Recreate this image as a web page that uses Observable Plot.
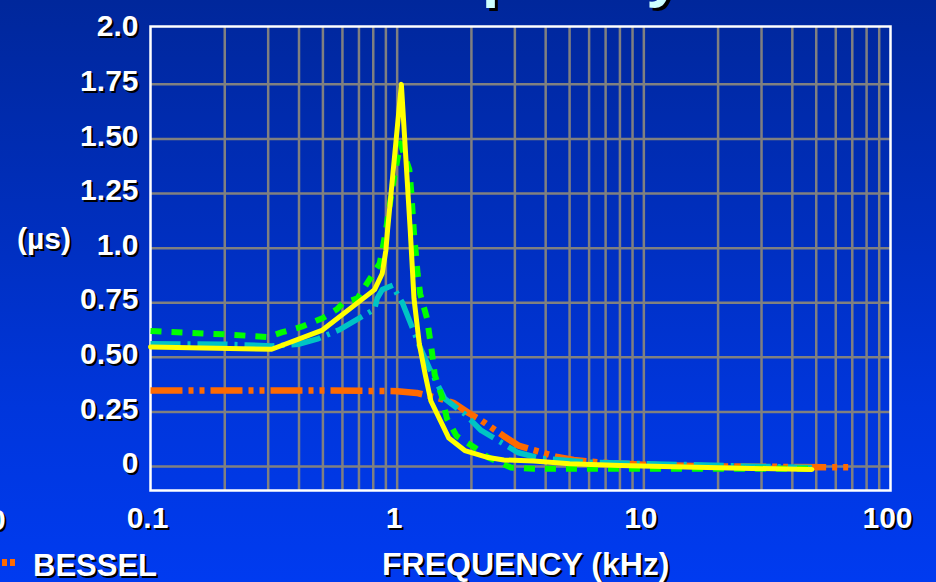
<!DOCTYPE html>
<html>
<head>
<meta charset="utf-8">
<script src="https://cdn.jsdelivr.net/npm/d3@7"></script>
<script src="https://cdn.jsdelivr.net/npm/@observablehq/plot@0.6"></script>
<style>
  html, body { margin: 0; padding: 0; }
  body { width: 936px; height: 582px; overflow: hidden; }
  #wrap {
    position: relative; width: 936px; height: 582px; overflow: hidden;
    background: linear-gradient(to bottom, #00279b 0%, #002fbf 40%, #0036dc 70%, #003bf0 100%);
    font-family: "Liberation Sans", Arial, sans-serif; font-weight: bold; color: white;
  }
  #wrap svg { position: absolute; left: 0; top: 0; }
  .lbl { position: absolute; white-space: nowrap; text-shadow: 2px 2px 0 #000; }
  #title { position: absolute; left: 0; width: 1044px; text-align: center; top: -121px;
    font-size: 63px; line-height: 63px; color: #ccffff; text-shadow: 3px 3px 0 #000; }
  .mk { position: absolute; background: #ff6a00; }
</style>
</head>
<body>
<div id="wrap">
  <div id="title">Group Delay vs.<br>Frequency</div>
</div>
<script>
// Tick values and labels
const xTicks = [0.1, 1, 10, 100];
const xTickLabels = ["0.1", "1", "10", "100"];
const xGrid = [0.2,0.3,0.4,0.5,0.6,0.7,0.8,0.9,1,2,3,4,5,6,7,8,9,10,20,30,40,50,60,70,80,90];
const yTicks = [2.0, 1.75, 1.5, 1.25, 1.0, 0.75, 0.5, 0.25, 0];
const yTickLabels = ["2.0", "1.75", "1.50", "1.25", "1.0", "0.75", "0.50", "0.25", "0"];
const yGrid = [0, 0.25, 0.5, 0.75, 1.0, 1.25, 1.5, 1.75];

// Bessel (orange, dash-dot-dot)
const besselF = [0.1, 0.5, 1.0, 1.2, 1.5, 1.7, 1.95, 2.2, 2.4, 2.7, 3.1, 3.7, 4.4, 5.2, 6.6, 10, 20, 68];
const besselV = [0.348, 0.348, 0.345, 0.337, 0.31, 0.29, 0.245, 0.21, 0.18, 0.14, 0.096, 0.07, 0.045, 0.03, 0.018, 0.008, 0, -0.004];

// Cyan (dash-dot)
const cyanF = [0.1, 0.2, 0.31, 0.4, 0.48, 0.58, 0.81, 0.83, 0.87, 0.96, 1.0, 1.05, 1.23, 1.35, 1.56, 1.88, 2.19, 2.64, 3.08, 3.81, 6, 9.3, 48];
const cyanV = [0.562, 0.56, 0.552, 0.56, 0.586, 0.625, 0.72, 0.77, 0.81, 0.83, 0.79, 0.75, 0.554, 0.45, 0.31, 0.24, 0.165, 0.11, 0.064, 0.037, 0.02, 0.014, -0.005];

// Green (dashed)
const greenF = [0.1, 0.2, 0.3, 0.34, 0.41, 0.5, 0.57, 0.6, 0.69, 0.85, 0.87, 0.9, 0.957, 1.0, 1.03, 1.12, 1.14, 1.17, 1.21, 1.24, 1.32, 1.385, 1.42, 1.52, 1.59, 1.74, 2.06, 2.34, 2.89, 3.57, 6.6, 48];
const greenV = [0.62, 0.605, 0.593, 0.614, 0.64, 0.68, 0.72, 0.746, 0.77, 0.93, 0.99, 1.08, 1.28, 1.40, 1.48, 1.36, 1.26, 1.07, 0.884, 0.79, 0.68, 0.52, 0.42, 0.32, 0.22, 0.14, 0.087, 0.041, -0.005, -0.01, -0.01, -0.01];

// Yellow (solid)
const yellowF = [0.1, 0.31, 0.495, 0.81, 0.87, 0.9, 0.914, 1.04, 1.13, 1.17, 1.23, 1.30, 1.37, 1.62, 1.88, 2.34, 2.71, 3.57, 5.0, 8, 20, 48];
const yellowV = [0.547, 0.537, 0.623, 0.81, 0.884, 0.99, 1.08, 1.75, 1.08, 0.77, 0.56, 0.42, 0.30, 0.13, 0.073, 0.041, 0.03, 0.025, 0.012, 0.005, -0.006, -0.014];

const toRows = (F, V) => F.map((f, i) => ({f, v: V[i]}));
const bessel = toRows(besselF, besselV);
const cyan = toRows(cyanF, cyanV);
const green = toRows(greenF, greenV);
const yellow = toRows(yellowF, yellowV);

const font = {fontFamily: "Liberation Sans, Arial, sans-serif", fontWeight: "bold", fontSize: 30};

const chart = Plot.plot({
  width: 936,
  height: 582,
  marginLeft: 150,
  marginRight: 46,
  marginTop: 26,
  marginBottom: 92,
  x: {type: "log", domain: [0.1, 100], axis: null},
  y: {domain: [-0.11, 2.015], axis: null},
  style: {background: "transparent", overflow: "visible"},
  marks: [
    Plot.ruleX(xGrid, {stroke: "#808080", strokeWidth: 2.5}),
    Plot.ruleY(yGrid, {stroke: "#808080", strokeWidth: 2.5}),
    Plot.frame({stroke: "white", strokeWidth: 2.5}),
    Plot.line(bessel, {x: "f", y: "v", stroke: "#ff6a00", strokeWidth: 6.5, strokeDasharray: "32,6,5,6,5,6", strokeLinecap: "butt"}),
    Plot.line(cyan, {x: "f", y: "v", stroke: "#00c4c4", strokeWidth: 5.5, strokeDasharray: "30,7,3,7", strokeLinecap: "butt"}),
    Plot.line(green, {x: "f", y: "v", stroke: "#00ff00", strokeWidth: 6, strokeDasharray: "11,10", strokeLinecap: "butt"}),
    Plot.line(yellow, {x: "f", y: "v", stroke: "#ffff00", strokeWidth: 5, strokeLinejoin: "round"}),
    // y tick labels (shadow + white)
    Plot.text(yTicks, {y: d => d, text: (d, i) => yTickLabels[i], frameAnchor: "left", textAnchor: "end", dx: -10, dy: -1, fill: "black", ...font}),
    Plot.text(yTicks, {y: d => d, text: (d, i) => yTickLabels[i], frameAnchor: "left", textAnchor: "end", dx: -12, dy: -3, fill: "white", ...font}),
    // x tick labels (shadow + white)
    Plot.text(xTicks, {x: d => d, text: (d, i) => xTickLabels[i], frameAnchor: "bottom", lineAnchor: "top", dx: -1, dy: 18, fill: "black", ...font}),
    Plot.text(xTicks, {x: d => d, text: (d, i) => xTickLabels[i], frameAnchor: "bottom", lineAnchor: "top", dx: -3, dy: 16, fill: "white", ...font})
  ]
});

const wrap = document.getElementById("wrap");
wrap.appendChild(chart);

function addLabel(text, left, top, size) {
  const d = document.createElement("div");
  d.className = "lbl";
  d.textContent = text;
  d.style.left = left + "px";
  d.style.top = top + "px";
  d.style.fontSize = size + "px";
  d.style.lineHeight = size + "px";
  wrap.appendChild(d);
}
addLabel("(\u00b5s)", 17, 224, 30);
addLabel("FREQUENCY (kHz)", 382, 548, 32);
addLabel("BESSEL", 33, 550, 31);
addLabel("0", -11, 505, 30);

// cut-off legend sample for BESSEL
[[2, 5], [10, 5]].forEach(([l, w]) => {
  const m = document.createElement("div");
  m.className = "mk";
  m.style.left = l + "px"; m.style.top = "559px"; m.style.width = w + "px"; m.style.height = "7px";
  wrap.appendChild(m);
});
</script>
</body>
</html>
